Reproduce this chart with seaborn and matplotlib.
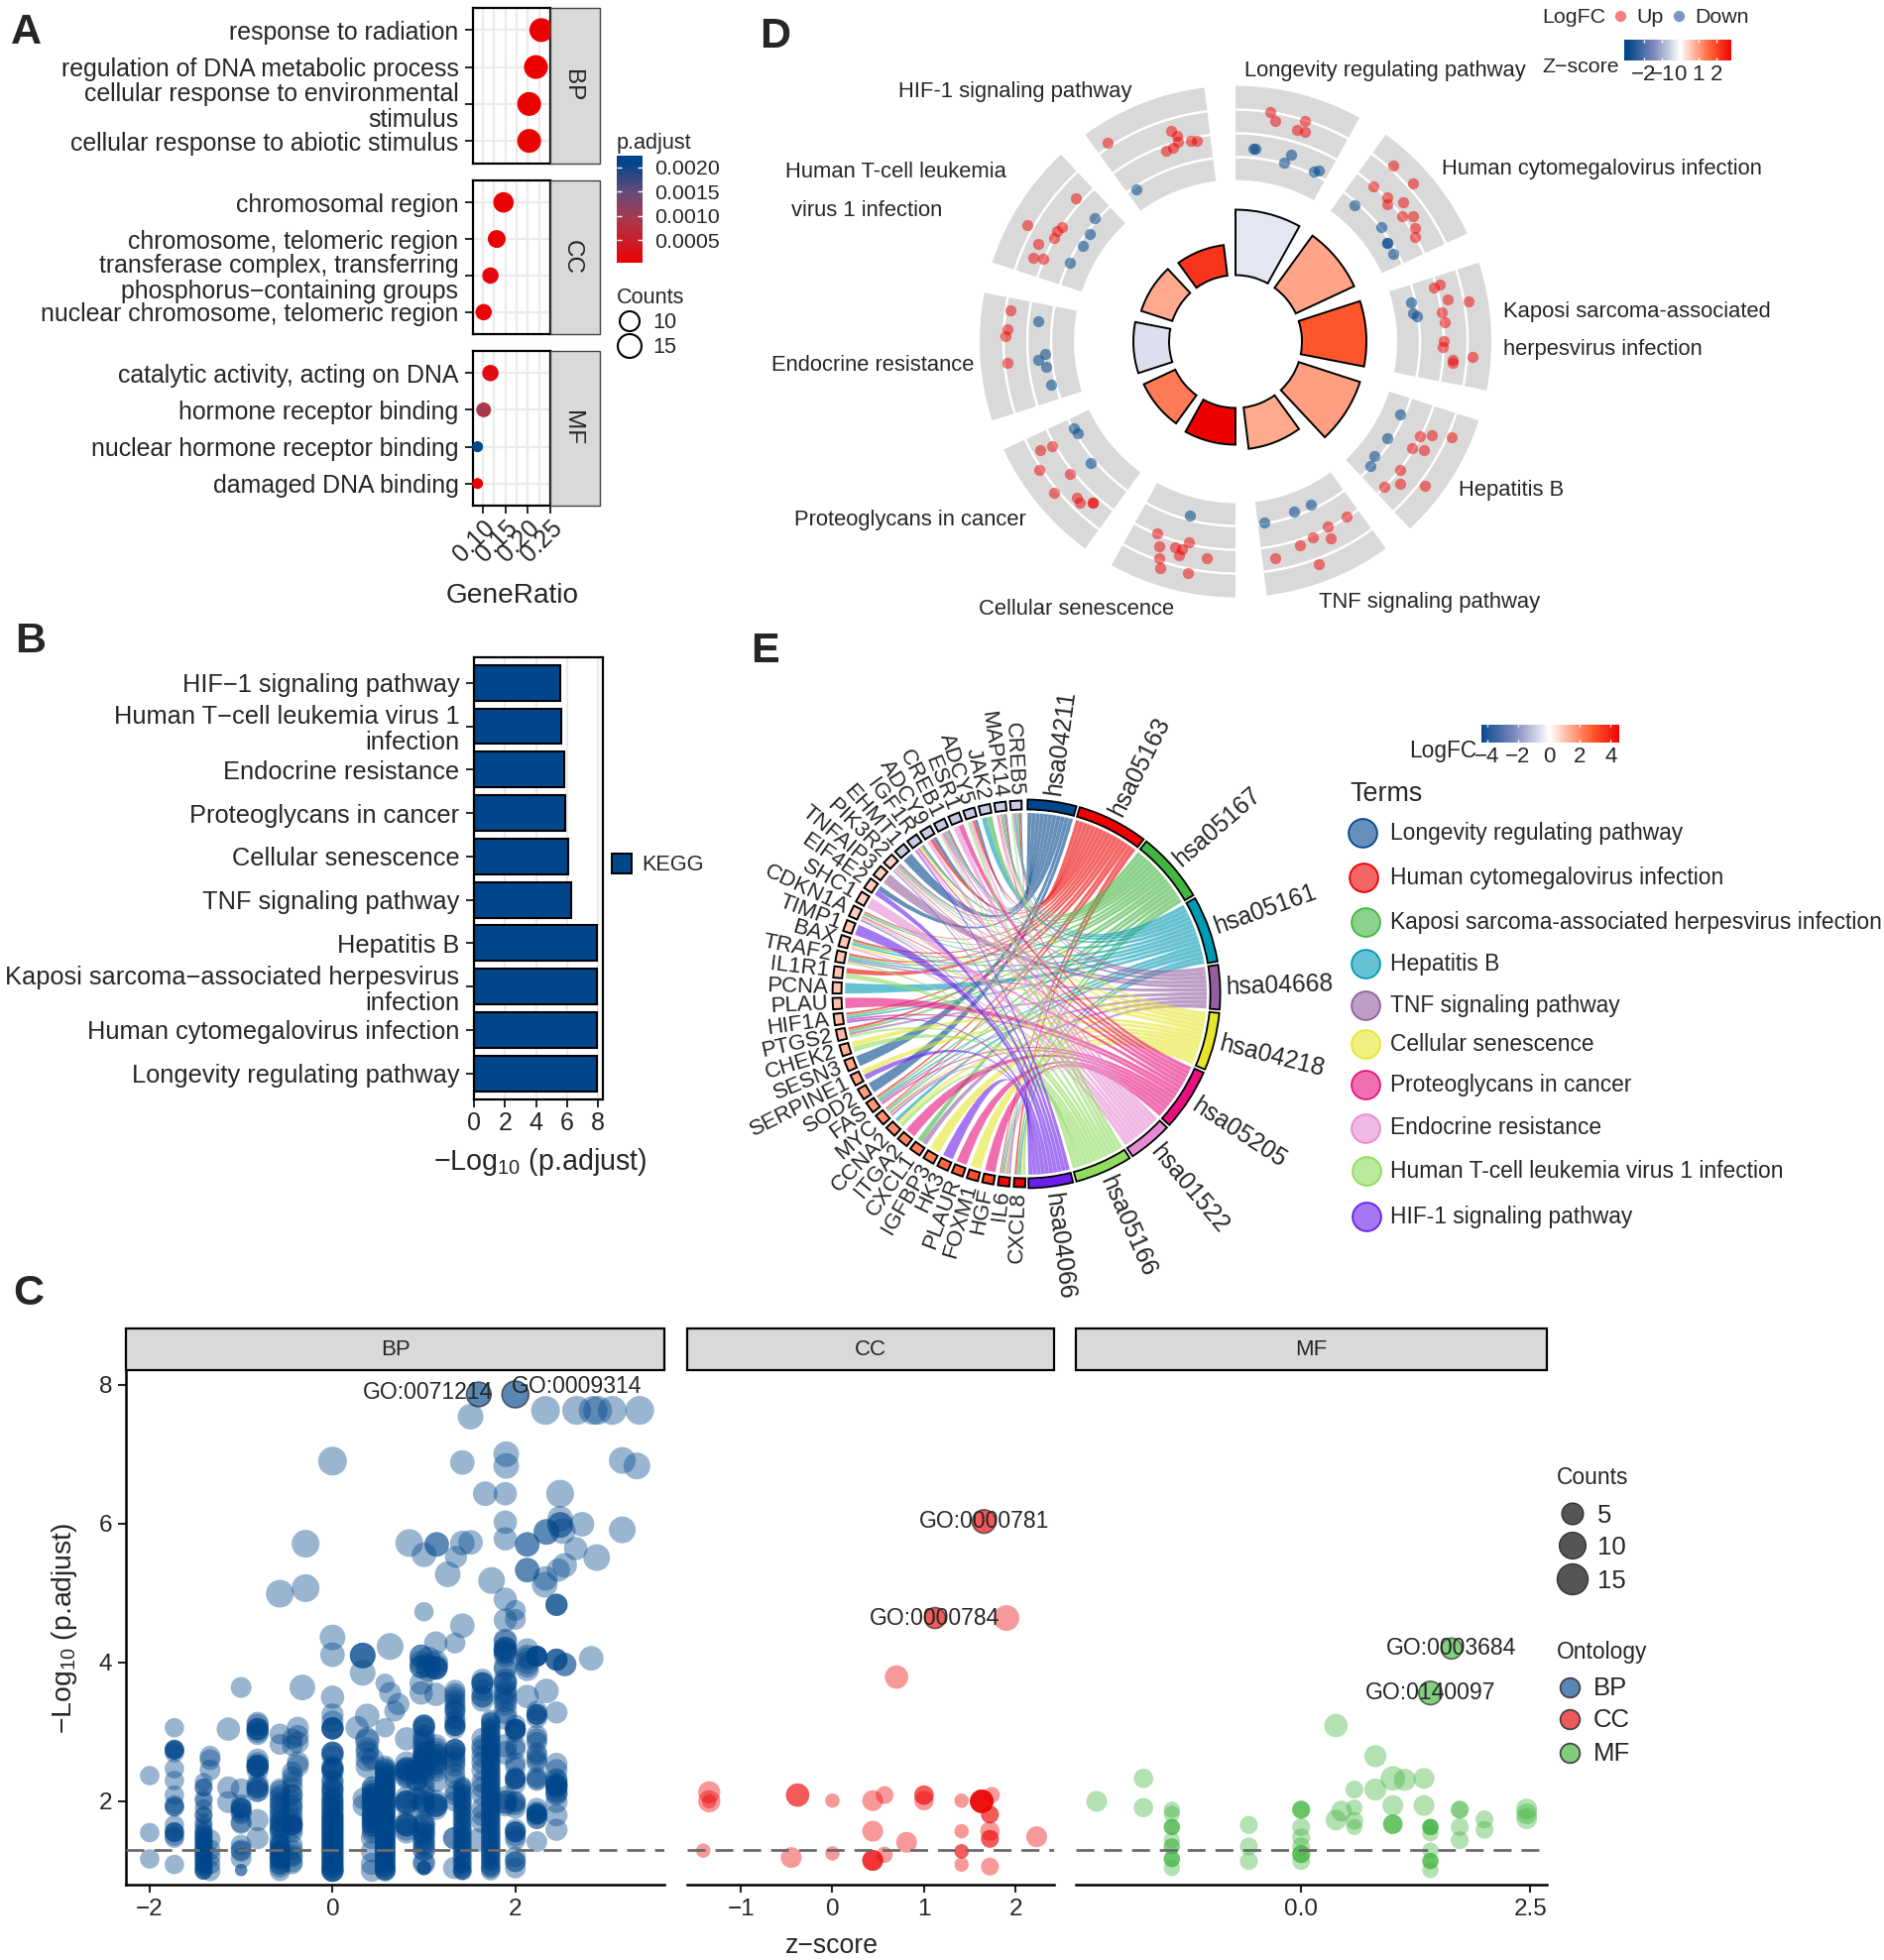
import numpy as np
import pandas as pd
import matplotlib
matplotlib.use("Agg")
import matplotlib.pyplot as plt
from matplotlib.colors import LinearSegmentedColormap, Normalize
from matplotlib.patches import PathPatch, Rectangle, Wedge
from matplotlib.path import Path
import seaborn as sns

sns.set_theme(style="white")
plt.rcParams["font.family"] = ["Liberation Sans", "DejaVu Sans"]
plt.rcParams["mathtext.default"] = "regular"

W, H = 1900, 1977
BLUE, RED, GREEN = "#00468B", "#ED0000", "#42B540"

# panel A: GO dot plot
a_terms_bp = ["response to radiation", "regulation of DNA metabolic process",
              "cellular response to environmental\nstimulus", "cellular response to abiotic stimulus"]
a_terms_cc = ["chromosomal region", "chromosome, telomeric region",
              "transferase complex, transferring\nphosphorus\u2212containing groups", "nuclear chromosome, telomeric region"]
a_terms_mf = ["catalytic activity, acting on DNA", "hormone receptor binding",
              "nuclear hormone receptor binding", "damaged DNA binding"]
a_ratio_bp = [0.230, 0.218, 0.203, 0.203]
a_ratio_cc = [0.146, 0.131, 0.117, 0.102]
a_ratio_mf = [0.117, 0.102, 0.0885, 0.0885]
a_count_bp = [15, 15, 15, 15]
a_count_cc = [12, 10, 9, 9]
a_count_mf = [9, 8, 6, 6]
a_padj_bp = [0.00002, 0.00002, 0.00003, 0.00003]
a_padj_cc = [0.00005, 0.00005, 0.00015, 0.00010]
a_padj_mf = [0.00020, 0.00090, 0.00210, 0.00004]

# panel B: KEGG bars
b_terms = ["HIF\u22121 signaling pathway", "Human T\u2212cell leukemia virus 1\ninfection", "Endocrine resistance",
           "Proteoglycans in cancer", "Cellular senescence", "TNF signaling pathway", "Hepatitis B",
           "Kaposi sarcoma\u2212associated herpesvirus\ninfection", "Human cytomegalovirus infection",
           "Longevity regulating pathway"]
b_values = [5.54, 5.65, 5.83, 5.86, 6.04, 6.28, 7.92, 7.95, 7.95, 7.95]

# panel C: bubble plot, rows are (z-score, count, [-log10 p.adjust values])
bp_left = [
    (-2.0, 5, [2.37, 1.55, 1.17]),
    (-1.73, 5, [3.06, 2.74, 2.74, 2.74, 2.47, 2.30, 2.09, 1.92, 1.92, 1.66, 1.56, 1.56, 1.47, 1.09]),
    (-1.73, 5, [2.75, 2.7, 1.95, 1.55, 1.5]),
    (-1.41, 4, [2.28, 2.2, 2.2, 2.04, 1.8, 1.8, 1.55, 1.5, 1.45, 1.4, 1.35, 1.3, 1.25, 1.2, 1.15, 1.1, 1.05, 1.0, 1.0, 1.0]),
    (-1.41, 4, [2.0, 1.9, 1.7, 1.65, 1.6, 1.55, 1.5, 1.45, 1.4, 1.35, 1.3, 1.25, 1.2, 1.15, 1.1, 1.05]),
    (-1.34, 6, [2.65, 2.6, 2.45, 1.45, 1.3, 1.2, 1.1, 1.0]),
    (-1.14, 8, [3.04]),
    (-1.14, 7, [2.2, 1.99]),
    (-1.0, 6, [3.64, 2.18, 1.9, 1.9, 1.82, 1.68, 1.37, 1.28, 1.18]),
    (-1.0, 6, [1.95, 1.9, 1.85, 1.7, 1.3]),
    (-1.0, 1, [1.01, 1.01]),
    (-0.82, 7, [3.13, 3.04, 3.04, 3.04, 2.97, 2.6, 2.51, 2.51, 2.51, 2.2, 2.2, 2.15, 1.73, 1.47]),
    (-0.82, 7, [3.1, 3.0, 2.55, 2.5, 2.45, 2.25, 2.15]),
    (-0.575, 6, [2.97, 2.82, 2.18, 2.09, 1.99, 1.9, 1.8, 1.7, 1.7, 1.6, 1.6, 1.37, 1.28, 1.28, 1.18, 1.18, 1.09, 1.0]),
    (-0.575, 6, [2.15, 2.05, 1.95, 1.85, 1.75, 1.65, 1.55, 1.45, 1.4, 1.35, 1.3, 1.25, 1.2, 1.15, 1.1, 1.05]),
    (-0.44, 6, [2.9, 2.8, 2.42, 2.28, 2.09, 1.94, 1.82, 1.66, 1.66, 1.66, 1.66, 1.37, 1.23, 1.13]),
    (-0.44, 6, [2.35, 2.2, 2.1, 2.0, 1.9, 1.75, 1.7, 1.6, 1.55, 1.3, 1.2, 1.1]),
    (-0.38, 7, [3.06, 2.94, 2.85, 2.56, 2.51]),
    (-0.33, 10, [3.64]),
    (-0.295, 12, [5.71, 5.07]),
    (-0.576, 12, [4.99]),
]
bp_centre = [
    (0.0, 13, [6.9]),
    (0.0, 10, [4.36]),
    (0.0, 9, [4.11]),
    (0.0, 8, [3.5]),
    (0.0, 7, [3.25, 3.15, 3.05, 3.05, 3.05, 2.7, 2.7, 2.65, 2.47, 2.47, 2.42, 2.28, 2.18, 2.1, 2.05, 2.0, 1.95, 1.9, 1.85,
              1.8, 1.75, 1.7, 1.65, 1.6, 1.55, 1.5, 1.45, 1.4, 1.35, 1.3, 1.25, 1.2, 1.15, 1.1, 1.05, 1.0, 1.0, 1.0]),
    (0.0, 7, [3.05, 2.7, 2.5, 2.45, 2.3, 2.2, 2.15, 2.0, 1.9, 1.8, 1.75, 1.7, 1.65, 1.6, 1.55, 1.5, 1.45, 1.4, 1.35, 1.3,
              1.25, 1.2, 1.15, 1.1, 1.05, 1.0]),
    (0.33, 10, [4.1, 4.1, 4.1, 3.85]),
    (0.38, 9, [3.23, 2.87]),
    (0.38, 8, [2.9, 2.75, 2.7, 2.6, 2.5]),
    (0.27, 8, [3.06]),
    (0.44, 7, [2.61, 2.2, 2.1, 2.05, 2.0, 1.95, 1.8, 1.75, 1.7, 1.65, 1.55]),
    (0.44, 7, [2.2, 2.15, 2.1, 2.05, 2.0, 1.95, 1.9, 1.85, 1.8, 1.75, 1.7, 1.65, 1.6]),
    (0.34, 7, [2.04, 1.94]),
    (0.43, 7, [1.47, 1.28, 1.1, 1.0]),
    (0.575, 5, [3.7, 3.06]),
    (0.63, 7, [3.56]),
    (0.63, 11, [4.23]),
    (0.72, 7, [3.4]),
    (0.68, 6, [3.3]),
    (0.575, 6, [2.51, 2.46, 2.41, 2.36, 2.31, 2.26, 2.21, 2.16, 2.11, 2.06, 2.01, 1.96, 1.91, 1.86, 1.81, 1.76, 1.71, 1.66,
                1.61, 1.56, 1.51, 1.46, 1.41, 1.36, 1.31, 1.26, 1.21, 1.16, 1.11, 1.06, 1.01, 1.0, 1.0]),
    (0.575, 6, [2.48, 2.43, 2.38, 2.33, 2.28, 2.23, 2.18, 2.13, 2.08, 2.03, 1.98, 1.93, 1.88, 1.83, 1.78, 1.73, 1.68, 1.63,
                1.58, 1.53, 1.48, 1.43, 1.38, 1.33, 1.28, 1.23, 1.18, 1.13, 1.08, 1.03]),
    (0.81, 8, [2.9, 2.47, 2.47, 2.44, 2.37, 1.99, 1.99, 1.99, 1.66, 1.66, 1.66, 1.56]),
    (0.81, 8, [2.55, 2.45, 2.4, 2.35, 2.05, 1.95, 1.7, 1.6]),
    (0.92, 7, [2.45, 2.4, 2.3]),
    (0.92, 7, [2.5, 2.4, 2.3, 2.05]),
]
bp_right = [
    (1.0, 5, [4.73]),
    (1.0, 7, [3.09, 3.09, 3.09, 2.9, 2.85, 2.8, 2.7, 2.65, 2.6, 2.55, 2.5, 2.28, 2.18, 1.99, 1.9, 1.66, 1.6, 1.55, 1.5, 1.45, 1.37, 1.3, 1.13]),
    (1.0, 7, [3.05, 2.95, 2.75, 2.7, 2.65, 2.6, 2.55, 2.5, 2.45, 2.4, 2.1, 2.0, 1.95, 1.7, 1.65, 1.55, 1.4, 1.3, 1.1]),
    (1.0, 2, [1.04, 1.04, 1.04]),
    (0.97, 8, [4.09, 4.09, 4.0, 3.94, 3.94, 3.7, 3.56]),
    (1.05, 9, [4.05, 3.95, 3.9]),
    (1.13, 8, [4.28, 3.92, 3.92, 3.92, 3.54, 2.8, 2.66, 2.56, 2.5, 1.94, 1.94]),
    (1.13, 9, [4.0, 3.95]),
    (1.13, 8, [2.75, 2.7, 2.65, 2.6, 2.55, 2.45, 2.3, 2.0, 1.95, 1.9]),
    (1.34, 6, [4.28, 3.6, 3.5, 3.4, 3.35, 3.3, 3.2, 3.09, 3.09, 3.09, 2.75, 2.75, 2.75, 2.56, 2.32, 2.09]),
    (1.34, 6, [3.55, 3.45, 3.3, 3.15, 3.05, 2.7, 2.65, 2.6, 2.5, 2.4, 2.15, 2.0]),
    (1.33, 7, [1.47, 1.47, 1.04]),
    (1.42, 4, [2.23, 2.18, 2.13, 2.08, 2.03, 1.98, 1.93, 1.88, 1.83, 1.78, 1.73, 1.68, 1.63, 1.58, 1.53, 1.48, 1.43, 1.38,
               1.33, 1.28, 1.23, 1.18, 1.13, 1.08, 1.03, 1.0, 1.0]),
    (1.42, 5, [2.2, 2.1, 2.0, 1.9, 1.8, 1.7, 1.6, 1.5, 1.4, 1.3, 1.2, 1.1, 1.0]),
    (1.42, 9, [4.53]),
    (1.64, 7, [3.7, 3.7, 3.7, 3.51, 3.51, 2.8, 2.56, 2.28]),
    (1.64, 7, [3.75, 3.6, 3.45, 2.9, 2.75, 2.65, 2.45, 2.2, 2.1, 1.9, 1.8, 1.7]),
    (1.59, 8, [1.44]),
    (1.73, 5, [3.18, 3.13, 3.08, 3.03, 2.98, 2.93, 2.88, 2.83, 2.78, 2.73, 2.68, 2.63, 2.58, 2.53, 2.48, 2.43, 2.38, 2.33, 2.28,
               2.23, 2.18, 2.13, 2.08, 2.03, 1.98, 1.93, 1.88, 1.83, 1.78, 1.73, 1.68, 1.63, 1.58, 1.53, 1.48, 1.43, 1.38, 1.33,
               1.28, 1.23, 1.18, 1.13, 1.08, 1.03, 1.0]),
    (1.73, 5, [3.15, 3.05, 2.95, 2.85, 2.75, 2.65, 2.55, 2.45, 2.35, 2.25, 2.15, 2.05, 1.95, 1.85, 1.75, 1.65, 1.55, 1.45, 1.35,
               1.25, 1.15, 1.05]),
    (1.89, 8, [4.91, 4.61, 4.32, 4.2, 4.2, 4.15, 4.15, 3.94, 3.7, 3.7, 3.5, 3.45, 3.28, 2.8, 1.99, 1.99]),
    (1.89, 8, [4.3, 4.2, 4.1, 3.9, 3.75, 3.6, 3.55, 3.4, 3.2, 2.7, 2.05, 1.95]),
    (2.0, 6, [4.75, 4.62, 3.04, 3.04, 3.04, 3.04, 2.8, 2.56, 2.32, 2.32, 2.32, 1.99, 1.9, 1.56, 1.56, 1.56, 1.13, 1.13, 1.04]),
    (2.0, 6, [3.1, 3.0, 2.75, 2.5, 2.35, 2.25, 2.0, 1.95, 1.6, 1.5, 1.45, 1.2]),
    (2.13, 8, [4.18, 4.09, 4.05, 4.0, 3.95, 3.9, 3.51]),
    (2.235, 6, [4.09, 4.09, 4.09, 4.09, 4.09, 3.25, 3.25, 3.25, 2.9, 2.85, 2.66, 2.56, 2.32, 1.9, 1.82, 1.82, 1.82, 1.75]),
    (2.235, 6, [3.3, 3.2, 2.95, 2.7, 2.6, 2.35, 2.3, 1.85, 1.8, 1.75]),
    (2.235, 6, [1.42]),
    (2.34, 9, [3.59]),
    (2.45, 7, [4.83, 4.83, 4.83, 4.04, 4.04, 4.04, 3.28, 2.54, 2.45, 2.32, 2.23, 2.23, 2.23, 2.12, 1.99, 1.8, 1.59]),
    (2.45, 7, [2.3, 2.25, 2.2, 2.15, 2.1]),
    (2.54, 8, [3.97, 3.97]),
    (2.83, 9, [4.06]),
]
bp_upper = [
    (1.51, 10, [7.54]), (2.33, 13, [7.63]), (2.67, 13, [7.63]), (2.85, 13, [7.63]), (2.9, 13, [7.63]),
    (3.06, 13, [7.63]), (3.36, 13, [7.63]), (3.17, 11, [6.91, 5.91]), (3.33, 11, [6.83]), (1.9, 10, [7.0, 6.83]),
    (1.42, 9, [6.88]), (1.67, 9, [6.43]), (1.89, 8, [6.43, 6.02, 5.78]), (2.49, 12, [6.43]), (2.34, 10, [5.88, 5.88]),
    (2.49, 10, [6.07, 5.98, 5.98]), (2.52, 10, [5.89]), (2.73, 9, [5.99]), (2.66, 8, [5.64]), (2.89, 11, [5.51]),
    (2.13, 9, [5.7, 5.7, 5.33, 5.33]), (2.33, 9, [5.21]), (2.32, 10, [5.12]), (2.47, 8, [5.33]), (2.54, 9, [5.4]),
    (0.84, 12, [5.72]), (1.0, 9, [5.55]), (1.14, 9, [5.7, 5.7]), (1.26, 10, [5.27]), (1.35, 7, [5.52]),
    (1.42, 9, [5.72]), (1.51, 9, [5.73]), (1.74, 11, [5.18]),
]
bp_marked_z = [1.6, 2.0]
bp_marked_y = [7.86, 7.86]
bp_marked_n = [9, 11]

cc_z = [-1.345, -1.345, -1.345, -0.38, -0.38, 0.0, 0.44, 0.57, 1.0, 1.0, 1.0, 1.41, 1.63, 1.63, 1.63, 1.63, 1.63, 1.74,
        1.72, 1.72, 0.44, 1.72, 1.72, 1.72, 1.41, 2.23, 0.81, -1.41, -0.45, 0.0, 0.57, 0.44, 0.44, 0.44, 1.41, 1.41, 1.41,
        1.72, 0.70, 1.9]
cc_y = [2.13, 2.0, 2.0, 2.09, 2.09, 2.01, 2.01, 2.09, 2.09, 2.09, 2.01, 2.01, 2.0, 2.0, 2.0, 2.0, 2.0, 2.09,
        1.81, 1.81, 1.57, 1.57, 1.46, 1.46, 1.57, 1.49, 1.41, 1.29, 1.19, 1.25, 1.23, 1.15, 1.15, 1.15, 1.28, 1.28, 1.09,
        1.06, 3.79, 4.64]
cc_n = [7, 7, 2, 8, 8, 2, 6, 4, 5, 5, 5, 2, 8, 8, 8, 8, 8, 3,
        4, 4, 6, 5, 4, 4, 2, 6, 6, 2, 6, 2, 3, 6, 6, 6, 2, 2, 2,
        4, 8, 10]
cc_marked_z = [1.655, 1.12]
cc_marked_y = [6.03, 4.64]
cc_marked_n = [8, 6]

mf_z = [0.38, 0.81, -1.72, -2.23, -1.72, 1.0, 1.13, 1.34, 0.58, 0.81, 1.0, 1.34, 0.58, 0.44, 0.38, 0.58, 0.58, 1.0, 1.0, 1.0,
        1.41, 1.41, 1.41, 1.41, 1.41, 1.73, 1.73, 1.73, 1.73, 2.0, 2.0, 2.46, 2.46, 2.46,
        -1.41, -1.41, -1.41, -1.41, -1.41, -1.41, -1.41, -1.41, -1.41, -1.41, -1.41, -1.41,
        -0.57, -0.57, -0.57, 0.0, 0.0, 0.0, 0.0, 0.0, 0.0, 0.0, 0.0, 0.0, 0.0, 1.41, 1.41, 1.41, 1.41, 1.41]
mf_y = [3.09, 2.65, 2.33, 2.0, 1.91, 2.33, 2.31, 2.33, 2.17, 2.17, 1.94, 1.94, 1.91, 1.86, 1.73, 1.72, 1.63, 1.67, 1.67, 1.67,
        1.63, 1.63, 1.63, 1.63, 1.54, 1.88, 1.88, 1.63, 1.44, 1.74, 1.59, 1.89, 1.82, 1.75,
        1.88, 1.82, 1.63, 1.63, 1.63, 1.44, 1.35, 1.35, 1.17, 1.17, 1.17, 1.04,
        1.66, 1.35, 1.14, 1.88, 1.88, 1.88, 1.63, 1.48, 1.35, 1.24, 1.24, 1.24, 1.14, 1.29, 1.14, 1.14, 1.14, 1.01]
mf_n = [8, 7, 5, 6, 5, 9, 7, 6, 4, 7, 6, 6, 3, 6, 6, 4, 3, 5, 5, 5,
        3, 3, 3, 3, 3, 4, 4, 4, 4, 4, 4, 6, 6, 6,
        3, 3, 3, 3, 3, 3, 3, 3, 3, 3, 3, 3,
        4, 4, 4, 4, 4, 4, 4, 4, 4, 4, 4, 4, 4, 3, 3, 3, 3, 3]
mf_marked_z = [1.64, 1.41]
mf_marked_y = [4.2, 3.56]
mf_marked_n = [6, 8]

# panel D: GO circle, one line per term, clockwise from the top
d_zscore = [-0.3, 0.95, 1.8, 1.0, 0.87, 2.9, 1.39, -0.39, 0.87, 2.2]
d_bar_top = [133, 132, 132, 132, 109, 104, 102, 103, 100, 98]
d_up_theta = [8.5, 10.1, 17.4, 16.1, 18.4,
              41.9, 48.2, 41.7, 46.3, 47.8, 50.2, 53, 54.7, 57.8, 59.8,
              74.8, 74.5, 80.1, 78.8, 81.9, 84.6, 89.9, 91.6, 94.9, 95.7, 93.7,
              117.2, 115.5, 113.8, 121.1, 120, 127.9, 130.9, 134.5, 127.2,
              147.5, 153.4, 154.2, 158.5, 162.5, 169.7, 159.6,
              202.2, 200.5, 196.4, 193.1, 194.4, 194.9, 199.4, 198.5, 187.6, 191.7,
              240.4, 240.9, 236.7, 231.2, 230.2, 225.4, 223.9, 221.4, 221.4,
              277.8, 273, 271.4, 264.7,
              311.9, 299.2, 303.6, 301.8, 299.7, 296.3, 292.6, 293.3,
              327.3, 343.1, 344.2, 343.9, 342.1, 340.1, 347.6, 349.1]
d_up_r = [233.6, 225.5, 232.7, 222.6, 222.8,
          238.5, 240, 209.7, 211, 206.8, 219.5, 210.3, 219.2, 214, 209.6,
          206.8, 214, 238.3, 218.4, 210.5, 212.2, 209.8, 209, 219.4, 220.5, 239.7,
          209.6, 219.4, 238.2, 207.5, 219.2, 211, 219.4, 209.7, 240.4,
          209, 208.5, 220.4, 212, 215.2, 222, 240,
          209.4, 220, 216, 207.8, 216.1, 223, 232, 240.6, 220.4, 238.9,
          212.6, 225, 236.3, 213.7, 238.6, 224.5, 226.2, 217.3, 217.3,
          229.5, 230.7, 231.9, 231.4,
          215.8, 240.3, 209.6, 212.3, 211, 221.8, 221, 210.8,
          238.7, 222.3, 215.5, 209.4, 205.4, 204.9, 207.8, 206.6]
d_down_theta = [5.2, 5.8, 16.4, 15.2, 24.6, 25.9,
                41, 51.9, 56.9, 56.9, 60.9,
                77.3, 81, 82.2,
                113.9, 122.7, 129.6, 132.7,
                170.9, 160.9, 155.2,
                194.7,
                241.7, 240, 229.9,
                275.9, 266.2, 264.8, 262.4, 256.9,
                311.3, 306.4, 302.2, 295.4,
                327]
d_down_r = [195.8, 196, 197, 187.4, 189, 191.5,
            182.3, 187.3, 182.2, 182.2, 181.4,
            181.3, 181.2, 184.4,
            181.4, 181.4, 181.8, 184.7,
            184.8, 181.8, 181.7,
            181.5,
            185, 184, 190.8,
            199.8, 192.6, 199.6, 192.4, 190.6,
            188.6, 183.2, 182, 185.2,
            183.4]

# panel E: chord diagram
e_ids = ["hsa04211", "hsa05163", "hsa05167", "hsa05161", "hsa04668", "hsa04218", "hsa05205", "hsa01522", "hsa05166", "hsa04066"]
e_names = ["Longevity regulating pathway", "Human cytomegalovirus infection", "Kaposi sarcoma-associated herpesvirus infection",
           "Hepatitis B", "TNF signaling pathway", "Cellular senescence", "Proteoglycans in cancer", "Endocrine resistance",
           "Human T-cell leukemia virus 1 infection", "HIF-1 signaling pathway"]
e_colors = ["#00468B", "#ED0000", "#42B540", "#0099B4", "#925E9F", "#E6E62E", "#E7107E", "#E68AD2", "#8FDC5E", "#6A1FEA"]
e_genes = ["CXCL8", "IL6", "HGF", "FOXM1", "PLAUR", "HK3", "IGFBP3", "CXCL1", "ITGA2", "CCNA2", "MYC", "FAS", "SOD2",
           "SERPINE1", "SESN3", "CHEK2", "PTGS2", "HIF1A", "PLAU", "PCNA", "IL1R1", "TRAF2", "BAX", "TIMP1", "CDKN1A", "SHC1",
           "EIF4E2", "TNFAIP3", "PIK3R2", "EHMT1", "IGF1R", "ADCY9", "CREB1", "ESR1", "ADCY5", "JAK2", "MAPK14", "CREB5"]
e_logfc = [4.6, 4.4, 3.3, 3.0, 2.7, 2.5, 2.2, 2.1, 2.0, 1.9, 1.8, 1.7, 1.6,
           1.5, 1.4, 1.3, 1.2, 1.1, 1.05, 1.0, 1.0, 0.95, 0.9, 0.9, 0.85, 0.8,
           0.8, 0.8, 0.75, -1.0, -1.0, -1.0, -1.1, -1.1, -1.05, -1.05, -1.0, -1.0]
longevity_genes = ["SOD2", "SESN3", "EIF4E2", "PIK3R2", "EHMT1", "IGF1R", "ADCY9", "CREB1", "ADCY5", "MAPK14", "CREB5"]
cmv_genes = ["CXCL8", "IL6", "MYC", "FAS", "PTGS2", "HIF1A", "IL1R1", "TRAF2", "BAX", "CDKN1A", "PIK3R2", "ADCY9", "CREB1",
             "ADCY5", "MAPK14", "CREB5"]
kshv_genes = ["CXCL8", "IL6", "CXCL1", "MYC", "FAS", "PTGS2", "HIF1A", "TRAF2", "BAX", "CDKN1A", "PIK3R2", "IGF1R", "CREB1",
              "JAK2", "MAPK14", "CREB5"]
hepb_genes = ["CXCL8", "IL6", "CCNA2", "MYC", "FAS", "HIF1A", "PCNA", "TRAF2", "BAX", "CDKN1A", "PIK3R2", "CREB1", "JAK2",
              "MAPK14", "CREB5"]
tnf_genes = ["IL6", "CXCL1", "FAS", "PTGS2", "TRAF2", "TNFAIP3", "PIK3R2", "CREB1", "MAPK14", "CREB5"]
senescence_genes = ["CXCL8", "IL6", "FOXM1", "IGFBP3", "CCNA2", "MYC", "SERPINE1", "CHEK2", "BAX", "CDKN1A", "PIK3R2", "IGF1R",
                    "MAPK14"]
proteoglycan_genes = ["IL6", "HGF", "PLAUR", "ITGA2", "MYC", "FAS", "HIF1A", "PLAU", "CDKN1A", "PIK3R2", "IGF1R", "CREB1", "ESR1",
                      "MAPK14"]
endocrine_genes = ["BAX", "CDKN1A", "SHC1", "PIK3R2", "IGF1R", "ADCY9", "CREB1", "ESR1", "ADCY5", "MAPK14"]
htlv_genes = ["CXCL8", "IL6", "CCNA2", "MYC", "CHEK2", "PTGS2", "IL1R1", "TRAF2", "CDKN1A", "PIK3R2", "CREB1", "ADCY5", "CREB5"]
hif_genes = ["IL6", "HK3", "MYC", "SERPINE1", "HIF1A", "TIMP1", "CDKN1A", "EIF4E2", "PIK3R2", "IGF1R"]
e_members = [longevity_genes, cmv_genes, kshv_genes, hepb_genes, tnf_genes, senescence_genes, proteoglycan_genes,
             endocrine_genes, htlv_genes, hif_genes]


def px_axes(x0, y0, x1, y1, **kw):
    return fig.add_axes([x0 / W, 1 - y1 / H, (x1 - x0) / W, (y1 - y0) / H], **kw)


def flatten(columns):
    rows = [(z, y, n) for z, n, ys in columns for y in ys]
    return pd.DataFrame(rows, columns=["z", "y", "n"])


def colorbar(rect, cmap, norm, lims, ticks, horizontal=True, size=15.5):
    cax = px_axes(*rect)
    grad = np.linspace(lims[0], lims[1], 256)
    if horizontal:
        cax.imshow(grad[None, :], cmap=cmap, norm=norm, aspect="auto", extent=[lims[0], lims[1], 0, 1])
        cax.vlines(ticks, 0, 0.14, color="white", lw=1)
        cax.vlines(ticks, 0.86, 1, color="white", lw=1)
        cax.set_xticks(ticks)
        cax.set_yticks([])
        cax.tick_params(axis="x", length=0, pad=3, labelsize=size)
    else:
        cax.imshow(grad[::-1, None], cmap=cmap, norm=norm, aspect="auto", extent=[0, 1, lims[0], lims[1]])
        cax.hlines(ticks, 0, 0.2, color="white", lw=1)
        cax.hlines(ticks, 0.8, 1, color="white", lw=1)
        cax.set_yticks(ticks)
        cax.yaxis.tick_right()
        cax.set_yticklabels([f"{t:.4f}" for t in ticks])
        cax.set_xticks([])
        cax.tick_params(axis="y", length=0, pad=9, labelsize=size)
    for s in cax.spines.values():
        s.set_visible(False)
    return cax


fig = plt.figure(figsize=(W / 100, H / 100), dpi=100, facecolor="white")
ov = px_axes(0, 0, W, H, zorder=6)
ov.set_xlim(0, W)
ov.set_ylim(H, 0)
ov.axis("off")


def label(x, y, s, size=15.6, ha="left", **kw):
    ov.text(x, y + 1.5, s, fontsize=size, ha=ha, va="center", **kw)


for x, y, s in [(11, 31, "A"), (766, 35, "D"), (15, 645, "B"), (757, 655, "E"), (13, 1303, "C")]:
    label(x, y, s, size=31, fontweight="bold")

# ---- A
p_cmap = LinearSegmentedColormap.from_list("padj", [(0, RED), (0.45, "#a83a50"), (0.7, "#6a4a7a"), (1, BLUE)])
facets = [("BP", 8, 164.5, a_terms_bp, a_ratio_bp, a_count_bp, a_padj_bp),
          ("CC", 182, 337, a_terms_cc, a_ratio_cc, a_count_cc, a_padj_cc),
          ("MF", 354, 510, a_terms_mf, a_ratio_mf, a_count_mf, a_padj_mf)]
for name, y0, y1, terms, ratio, count, padj in facets:
    ax = px_axes(477, y0, 555, y1)
    df = pd.DataFrame({"ratio": ratio, "pos": np.arange(4), "n": count, "p": padj})
    ax.set_axisbelow(True)
    ax.set_xticks([0.10, 0.15, 0.20, 0.25])
    ax.set_xticks([0.125, 0.175, 0.225], minor=True)
    ax.grid(True, which="both", color="#ebebeb", lw=1.6)
    sns.scatterplot(data=df, x="ratio", y="pos", size="n", sizes=(63, 300), size_norm=(6, 15), hue="p",
                    hue_norm=(0, 0.0021), palette=p_cmap, linewidth=0, legend=False, ax=ax, clip_on=False, zorder=3)
    ax.set_xlim(0.0783, 0.25)
    ax.set_ylim(3.6, -0.6)
    ax.set_yticks(range(4))
    ax.set_yticklabels(terms, fontsize=17.9, linespacing=1.1)
    ax.set_xlabel("")
    ax.set_ylabel("")
    ax.tick_params(axis="y", left=True, length=5.5, width=1.4, pad=5)
    ax.tick_params(axis="x", which="minor", length=0)
    if name == "MF":
        ax.tick_params(axis="x", bottom=True, length=5.5, width=1.4, pad=2)
        ax.set_xticklabels(["0.10", "0.15", "0.20", "0.25"], rotation=45, ha="right", rotation_mode="anchor", fontsize=17.9)
    else:
        ax.tick_params(axis="x", which="major", labelbottom=False, length=0)
    for s in ax.spines.values():
        s.set_color("black")
        s.set_linewidth(1.6)
    ov.add_patch(Rectangle((555, y0), 50, y1 - y0, facecolor="#d9d9d9", edgecolor="#444444", lw=1))
    ov.text(577, (y0 + y1) / 2, name, fontsize=17.5, rotation=-90, ha="center", va="center")

label(517, 599, "GeneRatio", size=20.2, ha="center")
label(622, 143, "p.adjust")
colorbar((622, 157, 648, 265), p_cmap, Normalize(0, 0.0021), (0.00003, 0.00224), [0.0005, 0.001, 0.0015, 0.002], horizontal=False, size=15.4)
label(622, 299, "Counts")
ov.scatter([635, 635], [324, 349], s=[207, 298], facecolor="white", edgecolor="black", lw=1.5)
label(658, 324, "10")
label(658, 349, "15")

# ---- B
ax = px_axes(478, 662.5, 607.5, 1109)
ax.set_axisbelow(True)
ax.grid(True, axis="x", which="both", color="#ebebeb", lw=1.6)
sns.barplot(x=b_values, y=b_terms, orient="h", color=BLUE, saturation=1, edgecolor="black", linewidth=1.5, width=0.82, ax=ax)
ax.set_xlim(0, 8.27)
ax.set_ylim(9.6, -0.6)
ax.set_xticks([0, 2, 4, 6, 8])
ax.set_yticks(range(10))
ax.set_yticklabels(b_terms, fontsize=18.3, linespacing=1.1)
ax.tick_params(axis="x", bottom=True, length=5.5, width=1.4, pad=3, labelsize=18)
ax.tick_params(axis="y", left=True, length=5.5, width=1.4, pad=5)
for s in ax.spines.values():
    s.set_color("black")
    s.set_linewidth(1.6)
ov.add_patch(Rectangle((617, 861), 20, 20, facecolor=BLUE, edgecolor="black", lw=1.4))
label(647, 871, "KEGG")
label(545, 1170, "\u2212Log$_{10}$ (p.adjust)", size=20.6, ha="center")

# ---- C
bp_df = pd.concat([flatten(bp_left), flatten(bp_centre), flatten(bp_right), flatten(bp_upper)])
bubble_panels = [
    ("BP", 127, 670, (-2.26, 3.63), [-2, 0, 2], BLUE, bp_df, bp_marked_z, bp_marked_y, bp_marked_n),
    ("CC", 693, 1063, (-1.586, 2.42), [-1, 0, 1, 2], RED, pd.DataFrame({"z": cc_z, "y": cc_y, "n": cc_n}),
     cc_marked_z, cc_marked_y, cc_marked_n),
    ("MF", 1085, 1560, (-2.457, 2.68), [0.0, 2.5], GREEN, pd.DataFrame({"z": mf_z, "y": mf_y, "n": mf_n}),
     mf_marked_z, mf_marked_y, mf_marked_n),
]
for name, x0, x1, xlim, xticks, col, df, mz, my, mn in bubble_panels:
    ax = px_axes(x0, 1382, x1, 1901)
    sns.scatterplot(data=df, x="z", y="y", size="n", sizes=(80, 498), size_norm=(1, 15), color=col, alpha=0.4,
                    linewidth=0, legend=False, ax=ax)
    marked = pd.DataFrame({"z": mz, "y": my, "n": mn})
    sns.scatterplot(data=marked, x="z", y="y", size="n", sizes=(80, 498), size_norm=(1, 15), color=col, alpha=0.65,
                    edgecolor="#222222", linewidth=1.2, legend=False, ax=ax, zorder=3)
    ax.axhline(1.3, color="#6a6a6a", lw=2.0, dashes=(6.5, 3.6), zorder=4)
    ax.set_xlim(*xlim)
    ax.set_ylim(0.80, 8.21)
    ax.set_xticks(xticks)
    ax.set_xlabel("")
    ax.set_ylabel("")
    ax.tick_params(axis="x", bottom=True, length=5.8, width=1.5, pad=4, labelsize=17.5)
    for s in ["top", "right"]:
        ax.spines[s].set_visible(False)
    ax.spines["bottom"].set_color("black")
    ax.spines["bottom"].set_linewidth(1.8)
    if name == "BP":
        ax.set_yticks([2, 4, 6, 8])
        ax.tick_params(axis="y", left=True, length=5.8, width=1.5, pad=4, labelsize=17.5)
        ax.spines["left"].set_color("black")
        ax.spines["left"].set_linewidth(1.8)
        ax.text(1.04, 7.89, "GO:0071214", fontsize=16.6, ha="center", va="center", zorder=5)
        ax.text(2.67, 7.97, "GO:0009314", fontsize=16.6, ha="center", va="center", zorder=5)
    else:
        ax.set_yticks([])
        ax.spines["left"].set_visible(False)
    if name == "CC":
        ax.text(1.655, 6.03, "GO:0000781", fontsize=16.6, ha="center", va="center", zorder=5)
        ax.text(1.12, 4.64, "GO:0000784", fontsize=16.6, ha="center", va="center", zorder=5)
    if name == "MF":
        ax.text(1.64, 4.2, "GO:0003684", fontsize=16.6, ha="center", va="center", zorder=5)
        ax.text(1.41, 3.56, "GO:0140097", fontsize=16.6, ha="center", va="center", zorder=5)
    ov.add_patch(Rectangle((x0, 1340), x1 - x0, 42, facecolor="#d9d9d9", edgecolor="black", lw=1.6))
    label((x0 + x1) / 2, 1360, name, size=16, ha="center")

label(65, 1641, "\u2212Log$_{10}$ (p.adjust)", size=20.4, ha="center", rotation=90)
label(839, 1961, "z\u2212score", size=19.2, ha="center")
label(1570, 1489, "Counts", size=16.4)
ov.scatter([1586] * 3, [1527, 1559, 1593], s=[244, 371, 498], facecolor="#555555", edgecolor="#333333", lw=1)
for y, s in zip([1527, 1559, 1593], ["5", "10", "15"]):
    label(1611, y, s, size=18.5)
label(1570, 1665, "Ontology", size=16.4)
for y, s, c in zip([1702, 1734, 1768], ["BP", "CC", "MF"], ["#5a86b4", "#ee5a5a", "#7fce7c"]):
    ov.scatter([1583], [y], s=200, facecolor=c, edgecolor="#444444", lw=1.3)
    label(1607, y, s, size=18.5)

# ---- D
cx, cy, rmax = 1246, 344.5, 270
pol = px_axes(cx - rmax, cy - rmax, cx + rmax, cy + rmax, projection="polar")
pol.set_theta_zero_location("N")
pol.set_theta_direction(-1)
z_nodes = [(0, BLUE), (0.25, "#7f89bd"), (0.5, "white"), (0.65, "#ffab90"), (0.8, "#ff5a30"), (1, "#EE0000")]
z_cmap = LinearSegmentedColormap.from_list("zs", z_nodes)
z_norm = Normalize(-2.9, 2.9)
for i in range(10):
    t0, t1 = np.radians(36 * i), np.radians(36 * i + 29)
    pol.bar((t0 + t1) / 2, 258 - 163, width=t1 - t0, bottom=163, color="#d9d9d9", linewidth=0, zorder=1)
    arc = np.linspace(t0, t1, 40)
    for r in (186, 210, 234):
        pol.plot(arc, np.full(arc.size, r), color="white", lw=1.8, zorder=2)
    pol.bar((t0 + t1) / 2, d_bar_top[i] - 67, width=t1 - t0, bottom=67, color=z_cmap(z_norm(d_zscore[i])),
            edgecolor="black", linewidth=1.4, zorder=2)
sns.scatterplot(x=np.radians(d_up_theta), y=d_up_r, color=RED, alpha=0.5, s=66, linewidth=0, legend=False, ax=pol, zorder=3)
sns.scatterplot(x=np.radians(d_down_theta), y=d_down_r, color=BLUE, alpha=0.55, s=66, linewidth=0, legend=False, ax=pol, zorder=3)
pol.set_rlim(0, rmax)
pol.axis("off")

for x, y, s in [(1255, 70, "Longevity regulating pathway"), (906, 91, "HIF-1 signaling pathway"),
                (792.5, 172, "Human T-cell leukemia"), (798, 211, "virus 1 infection"),
                (1454, 169, "Human cytomegalovirus infection"), (1516, 313, "Kaposi sarcoma-associated"),
                (1516, 351, "herpesvirus infection"), (778, 366.5, "Endocrine resistance"), (1471, 493, "Hepatitis B"),
                (801, 523, "Proteoglycans in cancer"), (1330, 606, "TNF signaling pathway"), (987, 613, "Cellular senescence")]:
    label(x, y, s, size=15.8)
label(1555, 16, "LogFC", size=15.4)
ov.scatter([1634], [15.5], s=66, color=RED, alpha=0.5, linewidth=0)
label(1650, 16, "Up", size=15.4)
ov.scatter([1693], [15.5], s=66, color=BLUE, alpha=0.55, linewidth=0)
label(1709, 16, "Down", size=15.4)
label(1555, 66, "Z\u2212score", size=15.4)
colorbar((1638, 40, 1746, 61), z_cmap, z_norm, (-3.08, 2.8), [-2, -1, 0, 1, 2], size=16)

# ---- E
ex, ey = 1034.6, 1002.5
eax = px_axes(ex - 300, ey - 300, ex + 300, ey + 300)
eax.set_xlim(-300, 300)
eax.set_ylim(-300, 300)
eax.axis("off")
fc_cmap = z_cmap
fc_norm = Normalize(-4.6, 4.6)


def polar_xy(alpha, r):
    a = np.radians(alpha)
    return np.column_stack([r * np.sin(a), r * np.cos(a)])


def radial_label(alpha, r, s, size):
    x, y = polar_xy(alpha, r)[0]
    if alpha <= 180:
        eax.text(x, y, s, fontsize=size, rotation=90 - alpha, ha="left", va="center", rotation_mode="anchor")
    else:
        eax.text(x, y, s, fontsize=size, rotation=270 - alpha, ha="right", va="center", rotation_mode="anchor")


n_genes = len(e_genes)
gene_mid = np.linspace(181.9, 357, n_genes)
gene_half = 1.7
counts = [len(m) for m in e_members]
gap = 1.0
unit = (179.2 - 0.5 - gap * 9) / sum(counts)
term_start = 0.5 + np.concatenate([[0], np.cumsum(np.array(counts) * unit + gap)[:-1]])

gene_terms = {g: [i for i, m in enumerate(e_members) if g in m] for g in e_genes}
for t, members in enumerate(e_members):
    ordered = sorted(members, key=lambda g: -e_genes.index(g))
    for k, g in enumerate(ordered):
        g_i = e_genes.index(g)
        terms_of_gene = gene_terms[g][::-1]
        width = 2 * gene_half / len(terms_of_gene)
        pos = terms_of_gene.index(t)
        a0 = gene_mid[g_i] - gene_half + pos * width
        a1 = a0 + width
        b0 = term_start[t] + k * unit
        b1 = b0 + unit
        r_in = 182.5
        arc_g = polar_xy(np.linspace(a0, a1, 6), r_in)
        arc_t = polar_xy(np.linspace(b0, b1, 6), r_in)
        verts = [arc_g[0]] + list(arc_g[1:]) + [(0, 0), arc_t[0]] + list(arc_t[1:]) + [(0, 0), arc_g[0]]
        codes = [Path.MOVETO] + [Path.LINETO] * 5 + [Path.CURVE3, Path.CURVE3] + [Path.LINETO] * 5 + [Path.CURVE3, Path.CURVE3]
        eax.add_patch(PathPatch(Path(verts, codes), facecolor=matplotlib.colors.to_rgba(e_colors[t], 0.6),
                                edgecolor=(1, 1, 1, 0.25), lw=0.3))

for t, tid in enumerate(e_ids):
    b0 = term_start[t]
    b1 = b0 + counts[t] * unit
    eax.add_patch(Wedge((0, 0), 196, 90 - b1, 90 - b0, width=10, facecolor=e_colors[t], edgecolor="black", lw=1.3))
    radial_label((b0 + b1) / 2, 202, tid, 17.7)
for g_i, g in enumerate(e_genes):
    a = gene_mid[g_i]
    eax.add_patch(Wedge((0, 0), 195, 90 - a - gene_half, 90 - a + gene_half, width=9,
                        facecolor=fc_cmap(fc_norm(e_logfc[g_i])), edgecolor="black", lw=1.4))
    radial_label(a, 200, g, 16)

label(1421, 756, "LogFC", size=16.4)
colorbar((1493.6, 730.7, 1632, 748.6), fc_cmap, fc_norm, (-4.4, 4.5), [-4, -2, 0, 2, 4], size=16)
label(1361, 800, "Terms", size=19.4)
legend_x = [1374, 1375, 1376.5, 1377, 1377, 1377, 1377, 1377, 1378, 1378]
legend_y = [840, 885, 930, 972, 1013.6, 1053, 1094, 1137.5, 1181, 1227]
for i, nm in enumerate(e_names):
    ov.scatter([legend_x[i]], [legend_y[i]], s=430, facecolor=matplotlib.colors.to_rgba(e_colors[i], 0.6),
               edgecolor=e_colors[i], lw=1.3)
    label(1402, legend_y[i] - 1, nm, size=16.4)

fig.savefig("out.png", dpi=100, facecolor="white")
